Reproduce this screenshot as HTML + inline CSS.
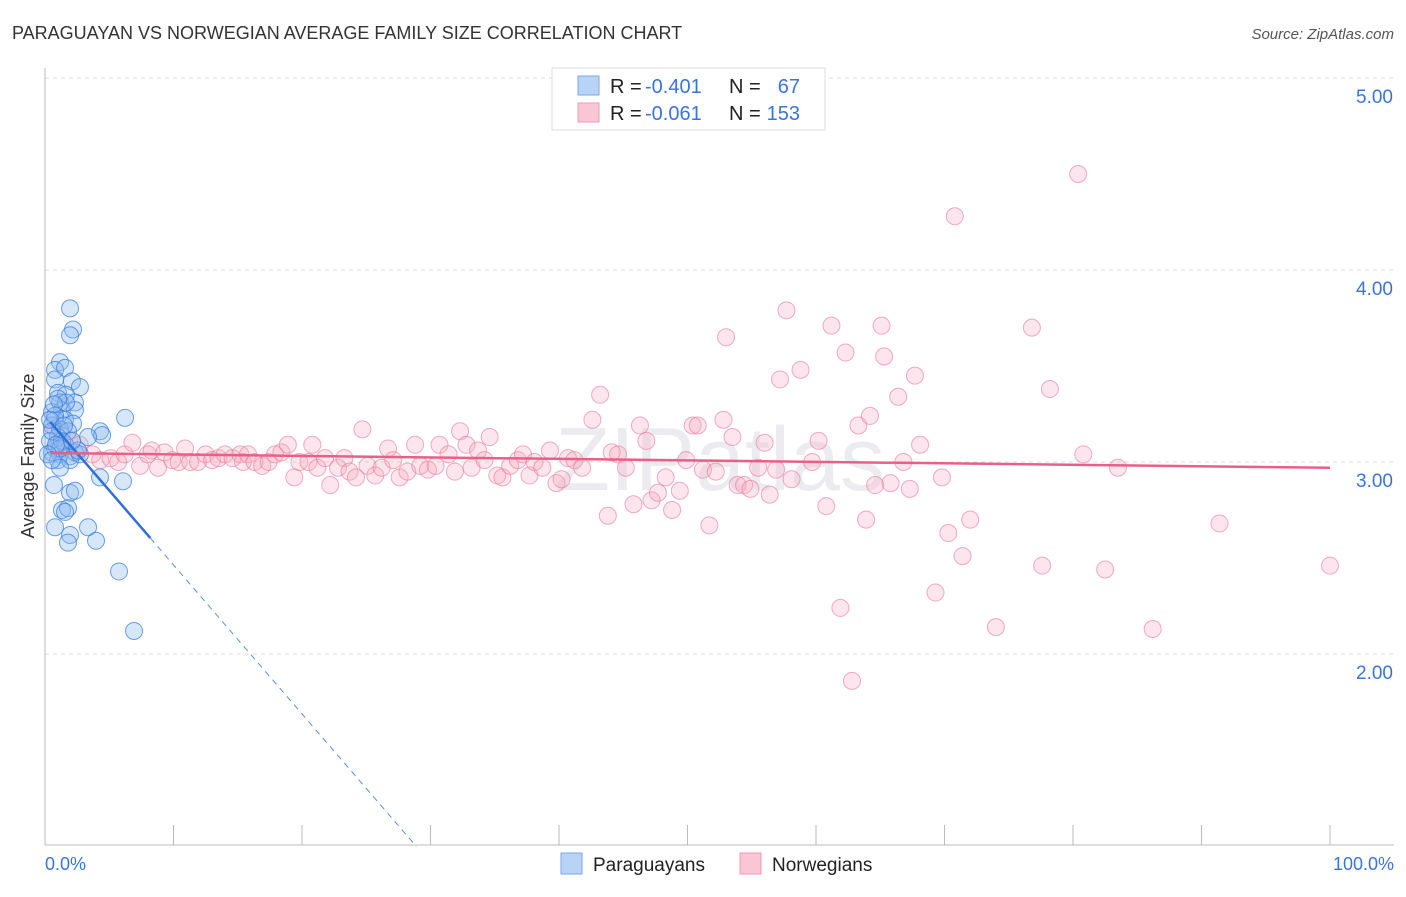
<!DOCTYPE html>
<html><head><meta charset="utf-8"><style>
body{margin:0;background:#fff;font-family:"Liberation Sans",sans-serif}
svg text{font-family:"Liberation Sans",sans-serif}
</style></head><body>
<svg id="chart" width="1406" height="892">
<text x="12" y="39" font-size="18" fill="#333">PARAGUAYAN VS NORWEGIAN AVERAGE FAMILY SIZE CORRELATION CHART</text>
<text x="1394" y="39" font-size="15" fill="#555" font-style="italic" text-anchor="end">Source: ZipAtlas.com</text>
<text x="720" y="490" font-size="90" fill="#ececf0" text-anchor="middle" font-family="Liberation Serif">ZIPatlas</text>
<g id="grid"></g>
<g id="axes"></g>
<g id="pts"></g>
<g id="lines"></g>
<text transform="translate(34,456) rotate(-90)" font-size="18" fill="#333" text-anchor="middle">Average Family Size</text>
<text x="45" y="870" font-size="18" fill="#3b74d9">0.0%</text>
<text x="1394" y="870" font-size="18" fill="#3b74d9" text-anchor="end">100.0%</text>
<g>
<rect x="552" y="68" width="273" height="62" fill="#fff" stroke="#ddd"/>
<rect x="578" y="76" width="21" height="19" fill="#b8d3f5" stroke="#7aa7e6"/>
<rect x="578" y="103" width="21" height="19" fill="#f9c6d5" stroke="#ee9ab3"/>
<text x="610" y="93" font-size="20" fill="#222">R =</text>
<text x="645" y="93" font-size="20" fill="#3b74d9">-0.401</text>
<text x="729" y="93" font-size="20" fill="#222">N =</text>
<text x="800" y="93" font-size="20" fill="#3b74d9" text-anchor="end">67</text>
<text x="610" y="120" font-size="20" fill="#222">R =</text>
<text x="645" y="120" font-size="20" fill="#3b74d9">-0.061</text>
<text x="729" y="120" font-size="20" fill="#222">N =</text>
<text x="800" y="120" font-size="20" fill="#3b74d9" text-anchor="end">153</text>
</g>
<g>
<rect x="561" y="853" width="21" height="21" fill="#b8d3f5" stroke="#7aa7e6"/>
<text x="593" y="871" font-size="19" fill="#222">Paraguayans</text>
<rect x="740" y="853" width="21" height="21" fill="#f9c6d5" stroke="#ee9ab3"/>
<text x="772" y="871" font-size="19" fill="#222">Norwegians</text>
</g>
</svg>
<script>
const yTicks=[2,3,4,5];
const yTickLabels=["2.00","3.00","4.00","5.00"];
const xTicks=[0,10,20,30,40,50,60,70,80,90,100];
const paraX=[1.95,2.18,1.95,1.17,0.78,1.56,0.78,2.10,2.72,1.01,1.63,1.17,2.33,1.32,0.54,2.33,0.78,1.56,2.18,0.54,1.17,1.79,1.01,4.28,4.44,6.23,3.35,0.54,1.17,1.95,0.78,1.56,2.33,1.01,1.95,2.72,4.28,6.07,0.70,1.95,2.33,1.32,1.79,1.56,3.35,0.78,1.95,1.79,3.97,5.76,6.93,0.39,1.32,0.78,0.54,1.63,1.17,2.57,1.01,0.39,0.86,1.48,2.10,0.70,1.17,0.23,0.54];
const paraY=[3.80,3.69,3.66,3.52,3.48,3.49,3.43,3.42,3.39,3.36,3.35,3.31,3.31,3.27,3.26,3.27,3.22,3.22,3.20,3.19,3.17,3.16,3.13,3.16,3.14,3.23,3.13,3.05,3.04,3.03,3.07,3.09,3.05,3.01,3.01,3.04,2.92,2.90,2.88,2.84,2.85,2.75,2.76,2.74,2.66,2.66,2.62,2.58,2.59,2.43,2.12,3.11,3.11,3.24,3.16,3.31,3.07,3.06,3.33,3.22,3.09,3.19,3.11,3.30,2.97,3.04,3.01];
const norX=[0.8,1.3,1.9,2.7,3.7,4.3,5.1,5.7,6.2,6.8,7.4,8.0,8.3,8.8,9.3,9.9,10.4,10.9,11.3,11.9,12.5,13.0,13.5,14.0,14.6,15.2,15.4,15.8,16.3,16.9,17.4,17.9,18.4,18.9,19.4,19.8,20.5,20.8,21.2,21.8,22.2,22.8,23.3,23.7,24.2,24.7,25.1,25.7,26.2,26.7,27.1,27.6,28.2,28.8,29.2,29.8,30.4,30.7,31.4,31.9,32.3,32.8,33.2,33.7,34.2,34.6,35.2,35.6,36.2,36.8,37.2,37.7,38.1,38.7,39.3,39.8,40.2,40.7,41.2,41.8,42.6,43.2,43.8,44.1,44.6,45.2,45.8,46.3,46.8,47.2,47.7,48.3,48.8,49.4,49.9,50.4,50.8,51.2,51.7,52.2,52.8,53.0,53.5,53.9,54.4,54.9,55.5,56.0,56.4,56.9,57.2,57.7,58.1,58.8,59.7,60.2,60.8,61.2,61.9,62.3,62.8,63.3,63.9,64.2,64.6,65.1,65.3,65.8,66.4,66.8,67.3,67.7,68.1,69.3,69.8,70.3,70.8,71.4,72.0,74.0,76.8,77.6,78.2,80.4,80.8,82.5,83.5,86.2,91.4,100.0];
const norY=[3.17,3.14,3.11,3.09,3.04,3.01,3.02,3.00,3.04,3.10,2.98,3.04,3.06,2.97,3.05,3.01,3.00,3.07,3.00,3.00,3.04,3.01,3.02,3.04,3.02,3.04,3.00,3.04,3.00,2.98,3.00,3.04,3.05,3.09,2.92,3.00,3.00,3.09,2.97,3.02,2.88,2.97,3.02,2.95,2.92,3.17,2.98,2.93,2.97,3.07,3.01,2.92,2.95,3.09,2.98,2.96,2.98,3.09,3.04,2.95,3.16,3.09,2.97,3.06,3.01,3.13,2.93,2.92,2.98,3.01,3.04,2.93,3.00,2.97,3.06,2.89,2.91,3.02,3.01,2.97,3.22,3.35,2.72,3.05,3.04,2.97,2.78,3.19,3.11,2.80,2.84,2.92,2.75,2.85,3.01,3.19,3.19,2.96,2.67,2.95,3.22,3.65,3.13,2.88,2.88,2.86,2.97,3.10,2.83,2.96,3.43,3.79,2.91,3.48,3.00,3.11,2.77,3.71,2.24,3.57,1.86,3.19,2.70,3.24,2.88,3.71,3.55,2.89,3.34,3.00,2.86,3.45,3.09,2.32,2.92,2.63,4.28,2.51,2.70,2.14,3.70,2.46,3.38,4.50,3.04,2.44,2.97,2.13,2.68,2.46];
const NS="http://www.w3.org/2000/svg";
const X0=45,X1=1330,YTOP=78,YPX=192;
const xs=v=>X0+(X1-X0)*v/100;
const ys=v=>YTOP+(5-v)*YPX;
function mk(t,a,p){const e=document.createElementNS(NS,t);for(const k in a)e.setAttribute(k,a[k]);p.appendChild(e);return e;}
const grid=document.getElementById('grid'),axes=document.getElementById('axes'),pts=document.getElementById('pts'),lines=document.getElementById('lines');
yTicks.forEach((t,i)=>{
  const l=mk('line',{x1:45,x2:1394,y1:ys(t),y2:ys(t),stroke:'#ddd','stroke-dasharray':'4,4'},grid);
  
  
  const tx=mk('text',{x:1393,y:ys(t)+25,'font-size':19,fill:'#3b74d9','text-anchor':'end'},grid);
  tx.textContent=yTickLabels[i];
  
  
});
const ax=mk('line',{x1:45,x2:45,y1:68,y2:845,stroke:'#bbb'},axes);


const bx=mk('line',{x1:45,x2:1394,y1:845,y2:845,stroke:'#bbb'},axes);


xTicks.forEach(t=>{
  const l=mk('line',{x1:xs(t),x2:xs(t),y1:825,y2:845,stroke:'#bbb'},axes);
  
  
});
norX.forEach((x,i)=>{
  const c=mk('circle',{cx:xs(x),cy:ys(norY[i]),r:8.5,fill:'rgba(246,168,193,0.3)',stroke:'rgba(232,120,155,0.6)','stroke-width':1},pts);
  
  
});
paraX.forEach((x,i)=>{
  const c=mk('circle',{cx:xs(x),cy:ys(paraY[i]),r:8.5,fill:'rgba(140,185,240,0.35)',stroke:'rgba(50,120,215,0.7)','stroke-width':1},pts);
  
  
});
const bf=x=>3.24-0.0776*x, pf=x=>3.047-0.00077*x;
const b1=mk('line',{x1:xs(0.4),y1:ys(bf(0.4)),x2:xs(8.2),y2:ys(bf(8.2)),stroke:'#2f6fd8','stroke-width':2.5},lines);


const b2=mk('line',{x1:xs(8.2),y1:ys(bf(8.2)),x2:xs(28.9),y2:ys(bf(28.9)),stroke:'#5b8fe0','stroke-width':1,'stroke-dasharray':'6,5'},lines);


const p1=mk('line',{x1:xs(0.4),y1:ys(pf(0.4)),x2:xs(100),y2:ys(pf(100)),stroke:'#e8608a','stroke-width':2.5},lines);


</script>
</body></html>
